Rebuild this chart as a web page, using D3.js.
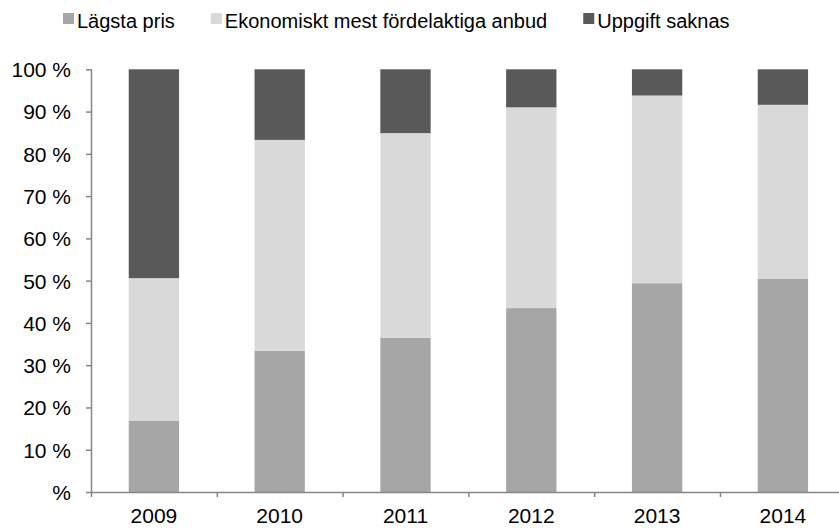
<!DOCTYPE html>
<html>
<head>
<meta charset="utf-8">
<script src="https://cdn.jsdelivr.net/npm/d3@7"></script>
<style>
  body { margin: 0; background: #fff; }
  text { font-family: "Liberation Sans", Arial, sans-serif; fill: #000; }
</style>
</head>
<body>
<div id="chart"></div>
<script>
// data (percent)
var years = ["2009", "2010", "2011", "2012", "2013", "2014"]
var lagstaPris = [16.8, 33.4, 36.5, 43.5, 49.4, 50.4]
var ekonomiskt = [33.8, 49.9, 48.4, 47.5, 44.4, 41.2]
var saknas = [49.4, 16.7, 15.1, 9.0, 6.2, 8.4]
var seriesNames = ["Lägsta pris", "Ekonomiskt mest fördelaktiga anbud", "Uppgift saknas"]
var yTicks = [0, 10, 20, 30, 40, 50, 60, 70, 80, 90, 100]

var color = d3.scaleOrdinal().domain(seriesNames).range(["#a6a6a6", "#d9d9d9", "#595959"])

var W = 839, H = 528
var margin = { top: 69.3, left: 91, bottom: 36 }
var height = H - margin.top - margin.bottom
var width = 6 * 125.8

var svg = d3.select("#chart").append("svg")
  .attr("width", W)
  .attr("height", H)

var g = svg.append("g").attr("transform", "translate(" + margin.left + "," + margin.top + ")")

var rows = years.map(function (y, i) {
  return { year: y, "Lägsta pris": lagstaPris[i], "Ekonomiskt mest fördelaktiga anbud": ekonomiskt[i], "Uppgift saknas": saknas[i] }
})
var stacked = d3.stack().keys(seriesNames)(rows)

var x = d3.scaleBand().domain(years).range([0, width]).paddingInner(0.6).paddingOuter(0.3)
var y = d3.scaleLinear().domain([0, 100]).range([height, 0])

// bars
g.selectAll(".serie").data(stacked).enter().append("g")
  .attr("class", "serie")
  .attr("fill", function (d) { return color(d.key) })
  .selectAll("rect").data(function (d) { return d }).enter().append("rect")
  .attr("x", function (d) { return x(d.data.year) })
  .attr("y", function (d) { return y(d[1]) })
  .attr("height", function (d) { return y(d[0]) - y(d[1]) })
  .attr("width", x.bandwidth())

// y axis
var yAxis = g.append("g")
  .call(d3.axisLeft(y).tickValues(yTicks).tickSize(5).tickPadding(15)
    .tickFormat(function (d) { return d === 0 ? "%" : d + " %" }))
yAxis.select(".domain").attr("stroke", "#868686").attr("stroke-width", 1.5).attr("d", "M0.5," + y(100) + "V" + y(0))
yAxis.selectAll(".tick line").attr("stroke", "#868686").attr("stroke-width", 1.5)
yAxis.selectAll("text").style("font-size", "21px").attr("dy", ".35em")

// x axis: ticks on band edges, labels at band centres
var edge = d3.scaleLinear().domain([0, 6]).range([0, width])
var xAxis = g.append("g")
  .attr("transform", "translate(0," + height + ")")
  .call(d3.axisBottom(edge).tickValues(d3.range(0, 7)).tickSize(5).tickFormat(""))
xAxis.select(".domain").attr("stroke", "#868686").attr("stroke-width", 1.5).attr("d", "M0,0.5H" + width)
xAxis.selectAll(".tick line").attr("stroke", "#868686").attr("stroke-width", 1.5)

g.append("g").selectAll("text").data(years).enter().append("text")
  .attr("x", function (d) { return x(d) + x.bandwidth() / 2 })
  .attr("y", height + 31)
  .attr("text-anchor", "middle")
  .style("font-size", "21px")
  .text(function (d) { return d })

// legend, items laid out one after another
var legend = svg.selectAll(".legend").data(seriesNames).enter().append("g")
  .attr("class", "legend")
legend.append("rect")
  .attr("y", 13)
  .attr("width", 11).attr("height", 11)
  .attr("fill", function (d) { return color(d) })
legend.append("text")
  .attr("x", 14).attr("y", 28)
  .style("font-size", "20px")
  .text(function (d) { return d })

var lx = 63
legend.each(function () {
  var item = d3.select(this)
  item.attr("transform", "translate(" + lx + ",0)")
  lx += 14 + item.select("text").node().getComputedTextLength() + 36
})
</script>
</body>
</html>
